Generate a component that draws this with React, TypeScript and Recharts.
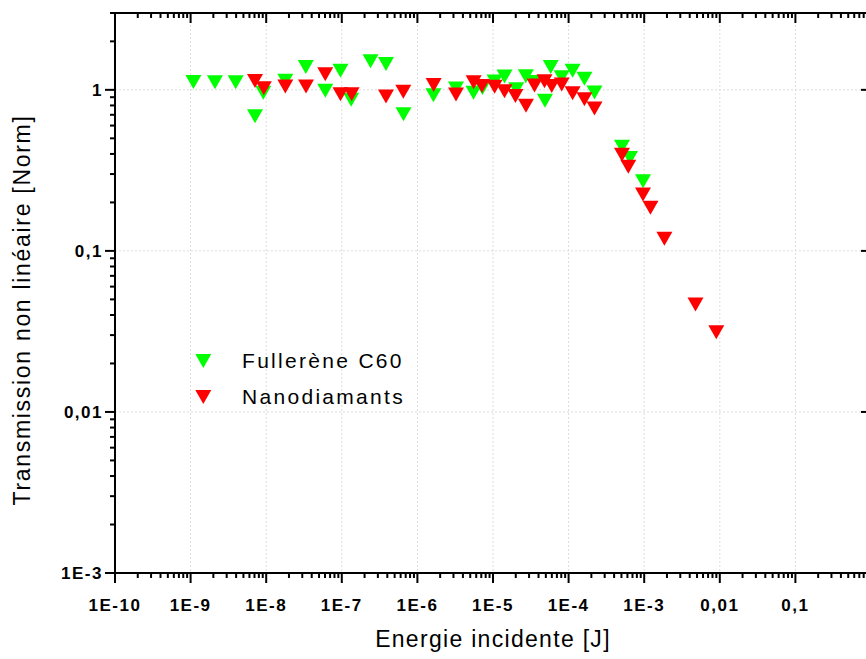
import React from 'react';
import { ScatterChart, Scatter, XAxis, YAxis, CartesianGrid, Legend } from 'recharts';

const FONT = '"Liberation Sans", Arial, sans-serif';

// major ticks + their labels (the label at 1 lies outside the picture)
const xMajor = [1e-10, 1e-9, 1e-8, 1e-7, 1e-6, 1e-5, 1e-4, 1e-3, 0.01, 0.1, 1];
const xLabels = ['1E-10', '1E-9', '1E-8', '1E-7', '1E-6', '1E-5', '1E-4', '1E-3', '0,01', '0,1', ''];
const yMajor = [1e-3, 0.01, 0.1, 1];
const yLabels = ['1E-3', '0,01', '0,1', '1'];

// Fullerène C60
const fullereneE = [
  1.09e-9, 2.1e-9, 3.95e-9, 7.11e-9, 9.15e-9, 1.79e-8, 3.34e-8, 6.05e-8, 9.61e-8, 1.33e-7,
  2.4e-7, 3.84e-7, 6.55e-7, 1.63e-6, 3.24e-6, 5.52e-6, 7.26e-6, 1.05e-5, 1.42e-5, 2.03e-5,
  2.72e-5, 3.59e-5, 4.87e-5, 5.8e-5, 8.1e-5, 1.13e-4, 1.62e-4, 2.2e-4, 5.08e-4, 6.49e-4, 9.64e-4,
];
const fullereneT = [
  1.12, 1.115, 1.115, 0.686, 0.958, 1.137, 1.386, 0.986, 1.312, 0.867,
  1.505, 1.446, 0.705, 0.924, 1.019, 0.958, 1.026, 1.126, 1.21, 1.01,
  1.215, 1.12, 0.856, 1.386, 1.196, 1.312, 1.172, 0.962, 0.444, 0.378, 0.271,
];

// Nanodiamants
const nanoE = [
  7.11e-9, 9.29e-9, 1.79e-8, 3.36e-8, 6.04e-8, 9.61e-8, 1.35e-7, 3.84e-7, 6.51e-7, 1.64e-6,
  3.24e-6, 5.54e-6, 7.15e-6, 1.05e-5, 1.42e-5, 1.98e-5, 2.73e-5, 3.54e-5, 4.8e-5, 5.98e-5,
  8.1e-5, 1.13e-4, 1.62e-4, 2.2e-4, 5.08e-4, 6.16e-4, 9.64e-4, 1.21e-3, 1.85e-3, 4.77e-3, 8.99e-3,
];
const nanoT = [
  1.134, 1.022, 1.048, 1.048, 1.25, 0.939, 0.939, 0.909, 0.973, 1.071,
  0.935, 1.115, 1.057, 1.045, 0.98, 0.917, 0.797, 1.063, 1.131, 1.057,
  1.079, 0.951, 0.874, 0.767, 0.396, 0.333, 0.224, 0.185, 0.119, 0.0464, 0.0312,
];

const fullerene = fullereneE.map((x, i) => ({ x, y: fullereneT[i] }));
const nano = nanoE.map((x, i) => ({ x, y: nanoT[i] }));

// log ticks incl. minor 2..9
const withMinors = (majors: number[], max: number) => {
  const out: number[] = [];
  majors.forEach((m) => {
    for (let k = 1; k <= 9; k++) {
      const v = +(m * k).toPrecision(10);
      if (v <= max * 1.000001) out.push(v);
    }
  });
  return out;
};
const xTicks = withMinors(xMajor, 1);
const yTicks = withMinors(yMajor, 3);

const labelStyle = { fontFamily: FONT, fontSize: 17, fontWeight: 700, letterSpacing: 1.5, fill: '#000' };

const makeTick = (side: 'bottom' | 'top' | 'left' | 'right', majors: number[], labels: string[] | null) =>
  (props: any) => {
    const { x, y, payload } = props;
    const v = payload.value;
    const i = majors.findIndex((m) => Math.abs(v / m - 1) < 1e-6);
    const len = i >= 0 ? 10 : 5;
    let x2 = x, y2 = y;
    if (side === 'bottom' || side === 'top') y2 = y + len;
    if (side === 'left') x2 = x - len;
    if (side === 'right') x2 = x - len;
    let text = null;
    if (labels && i >= 0 && labels[i]) {
      if (side === 'bottom')
        text = <text x={x} y={y + 38} textAnchor="middle" style={labelStyle}>{labels[i]}</text>;
      if (side === 'left')
        text = <text x={x - 12} y={y + 6} textAnchor="end" style={labelStyle}>{labels[i]}</text>;
    }
    return (
      <g>
        <line x1={x} y1={y} x2={x2} y2={y2} stroke="#000" strokeWidth={2} />
        {text}
      </g>
    );
  };

const Triangle = (props: any) => {
  const { cx, cy, fill } = props;
  return <path d={`M${cx - 8},${cy - 7}L${cx + 8},${cy - 7}L${cx},${cy + 7}Z`} fill={fill} />;
};

const renderLegend = (props: any) => {
  const { payload } = props;
  return (
    <svg width={260} height={72}>
      {payload.map((p: any, i: number) => {
        const cy = 18 + i * 36;
        return (
          <g key={p.value}>
            <path d={`M${5.3},${cy - 7}L${21.3},${cy - 7}L${13.3},${cy + 7}Z`} fill={p.color} />
            <text x={52} y={cy + 6.5} style={{ fontFamily: FONT, fontSize: 21, letterSpacing: 2.3, fill: '#000' }}>
              {p.value}
            </text>
          </g>
        );
      })}
    </svg>
  );
};

const axisLine = { stroke: '#000', strokeWidth: 2 };

export default function App() {
  return (
    <div
      style={{ position: 'absolute', left: 0, top: 0, width: 866, height: 659, overflow: 'hidden', background: '#fff' }}
    >
      <ScatterChart width={900} height={659} margin={{ top: 0, right: 10, bottom: 0, left: 0 }}>
        <CartesianGrid
          xAxisId="b"
          yAxisId="l"
          stroke="#dcdcdc"
          strokeDasharray="2 2"
          verticalValues={xMajor}
          horizontalValues={yMajor}
        />
        <XAxis
          xAxisId="b"
          dataKey="x"
          type="number"
          scale="log"
          domain={[1e-10, 1]}
          allowDataOverflow
          ticks={xTicks}
          interval={0}
          height={86}
          tickSize={0}
          tickMargin={0}
          axisLine={axisLine}
          tick={makeTick('bottom', xMajor, xLabels)}
          label={{
            content: (p: any) => {
              const vb = p.viewBox;
              return (
                <text
                  x={vb.x + vb.width / 2}
                  y={vb.y + 74}
                  textAnchor="middle"
                  style={{ fontFamily: FONT, fontSize: 23, letterSpacing: 1.3, fill: '#000' }}
                >
                  Energie incidente [J]
                </text>
              );
            },
          }}
        />
        <XAxis
          xAxisId="t"
          orientation="top"
          dataKey="x"
          type="number"
          scale="log"
          domain={[1e-10, 1]}
          allowDataOverflow
          ticks={xTicks}
          interval={0}
          height={13}
          tickSize={0}
          tickMargin={0}
          axisLine={axisLine}
          tick={makeTick('top', xMajor, null)}
        />
        <YAxis
          yAxisId="l"
          dataKey="y"
          type="number"
          scale="log"
          domain={[1e-3, 3]}
          allowDataOverflow
          ticks={yTicks}
          interval={0}
          width={115}
          tickSize={0}
          tickMargin={0}
          axisLine={axisLine}
          tick={makeTick('left', yMajor, yLabels)}
          label={{
            content: (p: any) => {
              const vb = p.viewBox;
              return (
                <text
                  transform={`translate(${vb.x + 30}, ${vb.y + vb.height / 2 + 17}) rotate(-90)`}
                  textAnchor="middle"
                  style={{ fontFamily: FONT, fontSize: 23, letterSpacing: 1.7, fill: '#000' }}
                >
                  Transmission non linéaire [Norm]
                </text>
              );
            },
          }}
        />
        <YAxis
          yAxisId="r"
          orientation="right"
          dataKey="y"
          type="number"
          scale="log"
          domain={[1e-3, 3]}
          allowDataOverflow
          ticks={yTicks}
          interval={0}
          width={19}
          tickSize={0}
          tickMargin={0}
          axisLine={axisLine}
          tick={makeTick('right', yMajor, null)}
        />
        <Legend
          layout="vertical"
          align="center"
          verticalAlign="middle"
          content={renderLegend}
          wrapperStyle={{ left: 190, top: 343, width: 260, height: 72 }}
        />
        <Scatter
          name="Fullerène C60"
          data={fullerene}
          xAxisId="b"
          yAxisId="l"
          fill="#00ff00"
          shape={Triangle}
          isAnimationActive={false}
        />
        <Scatter
          name="Nanodiamants"
          data={nano}
          xAxisId="b"
          yAxisId="l"
          fill="#ff0000"
          shape={Triangle}
          isAnimationActive={false}
        />
      </ScatterChart>
    </div>
  );
}
